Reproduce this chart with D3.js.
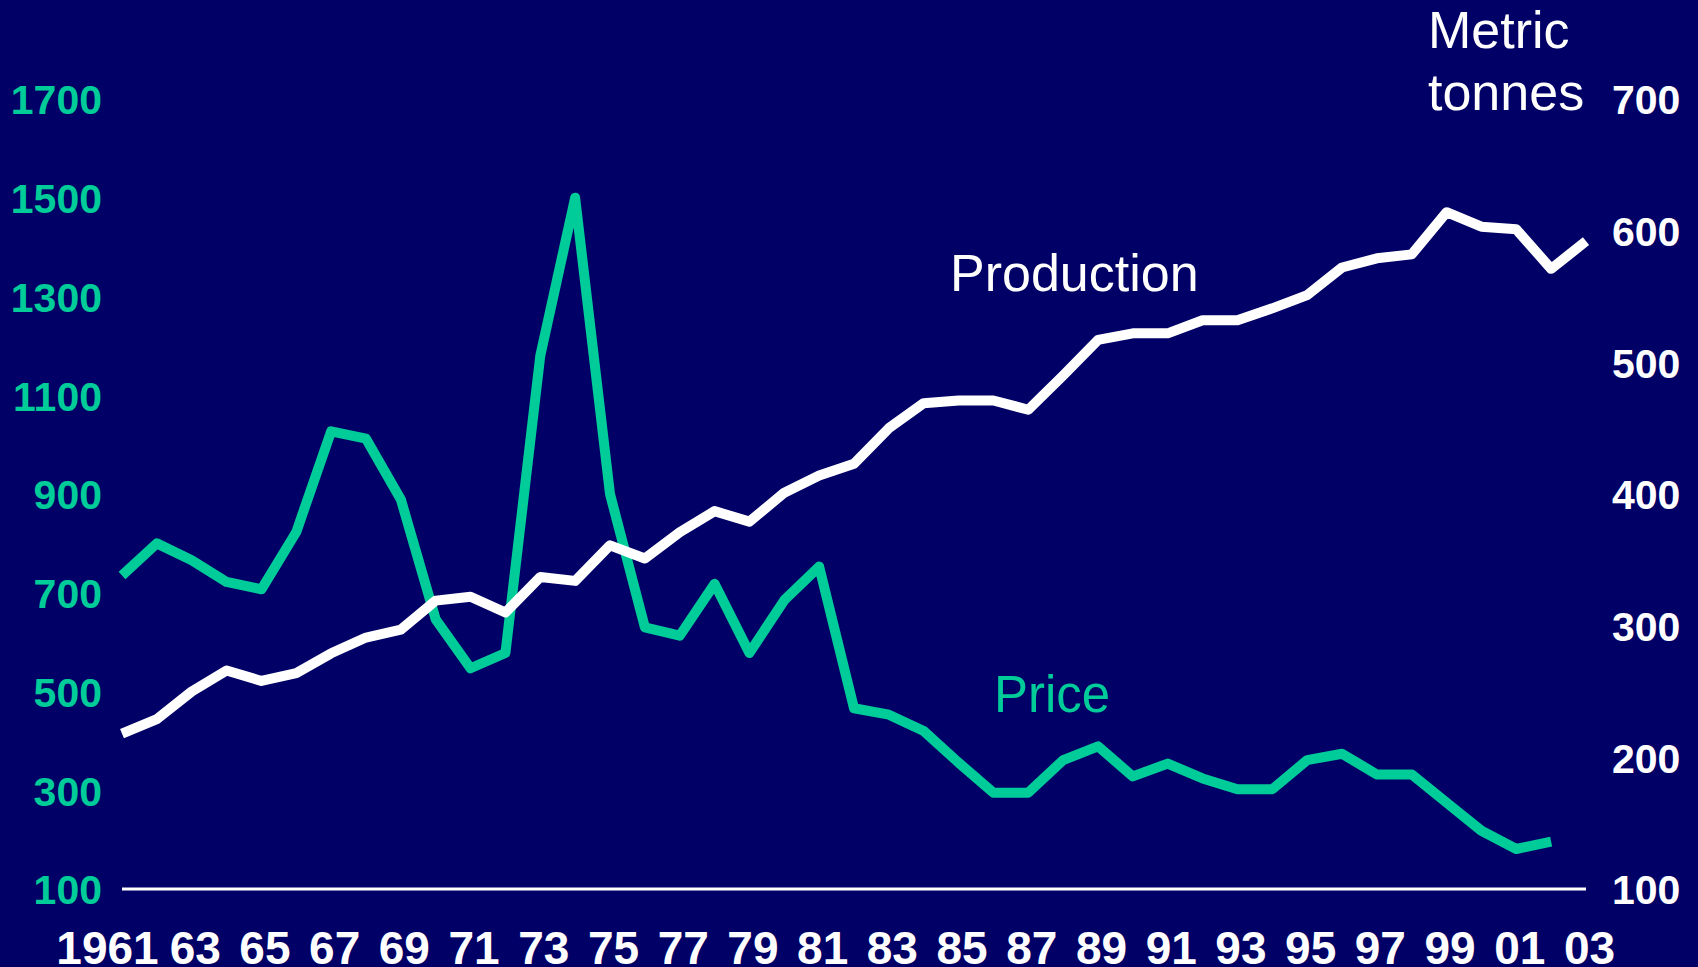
<!DOCTYPE html>
<html>
<head>
<meta charset="utf-8">
<script src="https://cdn.jsdelivr.net/npm/d3@7"></script>
<style>
  html, body { margin: 0; padding: 0; background: #000066; overflow: hidden; }
  svg { display: block; }
</style>
</head>
<body>
<svg id="chart" width="1698" height="967"></svg>
<script>
// ---- data ----
const years = d3.range(1961, 2004);
const price = [735, 800, 766, 722, 707, 823, 1027, 1012, 889, 646,
               547, 578, 1180, 1500, 900, 630, 613, 718, 578, 685,
               753, 466, 453, 420, 356, 295, 295, 361, 389, 328,
               354, 324, 302, 302, 361, 374, 332, 332, 275, 218,
               181, 196];          // 1961–2002
const production = [218, 229, 250, 266, 258, 264, 279, 291, 297, 319,
                    322, 310, 337, 334, 361, 351, 371, 387, 379, 401,
                    414, 423, 450, 469, 471, 471, 464, 490, 517, 522,
                    522, 532, 532, 541, 551, 572, 579, 582, 614, 603,
                    601, 571, 592]; // 1961–2003
const priceTicks = [100, 300, 500, 700, 900, 1100, 1300, 1500, 1700];
const prodTicks = [100, 200, 300, 400, 500, 600, 700];
const xTickYears = d3.range(1961, 2004, 2);
const xTickLabels = xTickYears.map(y => y === 1961 ? "1961" : String(y % 100).padStart(2, "0"));

// ---- styles ----
const BG = "#000066", TEAL = "#00CC99", WHITE = "#FFFFFF";
const FONT = "'Liberation Sans', Arial, sans-serif";
const svg = d3.select("#chart");
svg.append("rect").attr("width", 1698).attr("height", 967).attr("fill", BG);

const x = d3.scaleLinear().domain([1961, 2003]).range([122, 1586]);
const yL = d3.scaleLinear().domain([100, 1700]).range([889, 99]);
const yR = d3.scaleLinear().domain([100, 700]).range([889, 99]);

// baseline
svg.append("line")
  .attr("x1", x(1961)).attr("x2", x(2003))
  .attr("y1", yL(100)).attr("y2", yL(100))
  .attr("stroke", WHITE).attr("stroke-width", 3);

// left axis
const leftAxis = d3.axisLeft(yL).tickValues(priceTicks).tickSize(0).tickPadding(0)
  .tickFormat(d3.format("d"));
const gL = svg.append("g").attr("transform", "translate(102,0)").call(leftAxis);
gL.select(".domain").remove();
gL.selectAll("text")
  .attr("fill", TEAL).attr("font-family", FONT)
  .attr("font-weight", "bold").attr("font-size", 41).attr("dy", "0.36em");

// right axis
const rightAxis = d3.axisRight(yR).tickValues(prodTicks).tickSize(0).tickPadding(0)
  .tickFormat(d3.format("d"));
const gR = svg.append("g").attr("transform", "translate(1612,0)").call(rightAxis);
gR.select(".domain").remove();
gR.selectAll("text")
  .attr("fill", WHITE).attr("font-family", FONT)
  .attr("font-weight", "bold").attr("font-size", 41).attr("dy", "0.36em");

// bottom axis
const bottomAxis = d3.axisBottom(x).tickValues(xTickYears).tickSize(0).tickPadding(0)
  .tickFormat((d, i) => xTickLabels[i]);
const gB = svg.append("g").attr("transform", "translate(3,964)").call(bottomAxis);
gB.select(".domain").remove();
gB.selectAll("text")
  .attr("fill", WHITE).attr("font-family", FONT)
  .attr("font-weight", "bold").attr("font-size", 46).attr("dy", 0).attr("y", 0)
  .attr("dx", (d, i) => i === 0 ? -18 : 0);

// lines
const linePrice = d3.line().x((d, i) => x(years[i])).y(d => yL(d));
const lineProd = d3.line().x((d, i) => x(years[i])).y(d => yR(d));

svg.append("path").datum(price).attr("d", linePrice)
  .attr("fill", "none").attr("stroke", TEAL).attr("stroke-width", 10)
  .attr("stroke-linejoin", "round");
svg.append("path").datum(production).attr("d", lineProd)
  .attr("fill", "none").attr("stroke", WHITE).attr("stroke-width", 10)
  .attr("stroke-linejoin", "round");

// labels
const lab = (txt, xx, yy, col, fs) => svg.append("text").text(txt)
  .attr("x", xx).attr("y", yy).attr("fill", col)
  .attr("font-family", FONT).attr("font-size", fs);
lab("Production", 950, 291, WHITE, 52);
lab("Price", 994, 712, TEAL, 51);
lab("Metric", 1428, 48, WHITE, 52);
lab("tonnes", 1428, 110, WHITE, 52);
</script>
</body>
</html>
